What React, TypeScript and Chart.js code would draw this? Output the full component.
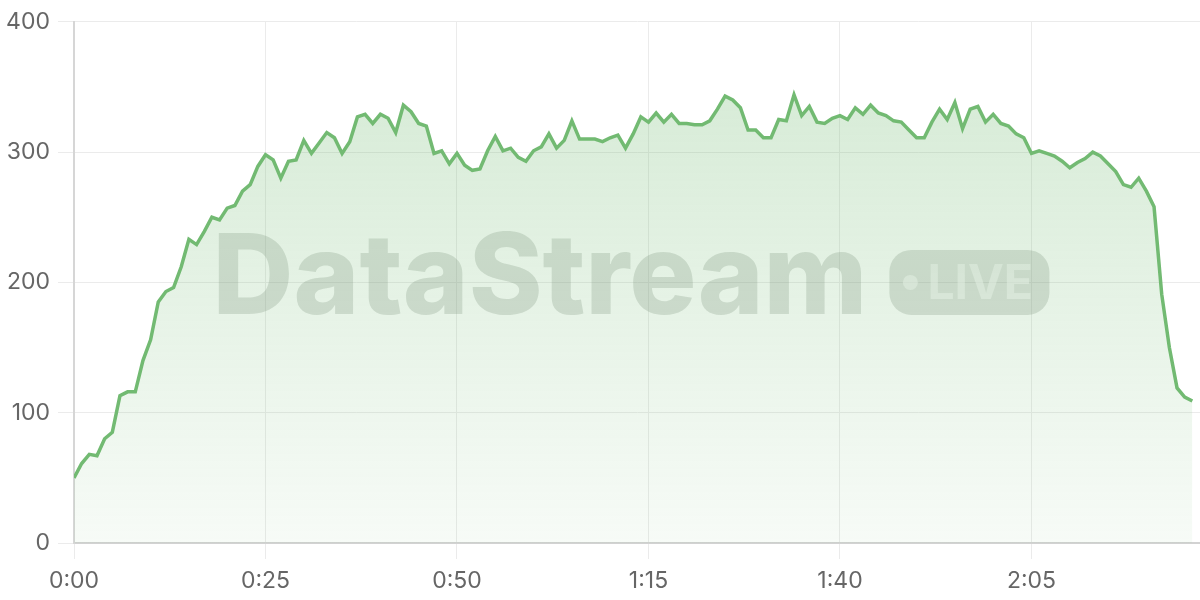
import { useRef, useEffect } from 'react'
import { Chart, registerables } from 'chart.js'

Chart.register(...registerables)

// one sample per second
const SPEED = [
  50, 61, 68, 67, 80, 85, 113, 116, 116, 140,
  156, 185, 193, 196, 212, 233, 229, 239, 250, 248,
  257, 259, 270, 275, 289, 298, 294, 280, 293, 294,
  309, 299, 307, 315, 311, 299, 308, 327, 329, 322,
  329, 326, 315, 336, 331, 322, 320, 299, 301, 291,
  299, 290, 286, 287, 301, 312, 301, 303, 296, 293,
  301, 304, 314, 303, 309, 324, 310, 310, 310, 308,
  311, 313, 303, 314, 327, 323, 330, 323, 329, 322,
  322, 321, 321, 324, 333, 343, 340, 334, 317, 317,
  311, 311, 325, 324, 344, 328, 335, 323, 322, 326,
  328, 325, 334, 329, 336, 330, 328, 324, 323, 317,
  311, 311, 323, 333, 325, 338, 318, 333, 335, 323,
  329, 322, 320, 314, 311, 299, 301, 299, 297, 293,
  288, 292, 295, 300, 297, 291, 285, 275, 273, 280,
  270, 258, 191, 150, 119, 112, 109,
]

const X_TICKS = [0, 25, 50, 75, 100, 125]
const Y_TICKS = [0, 100, 200, 300, 400]
const X_MAX = 147

const WATERMARK = 'DataStream'
const BADGE = 'LIVE'

const LINE = '#72ba72'
const FONT = 'Inter, "Noto Sans", sans-serif'

const fmtTime = (s: number) => `${Math.floor(s / 60)}:${String(s % 60).padStart(2, '0')}`

const watermarkPlugin = {
  id: 'watermark',
  beforeDatasetsDraw(chart: Chart) {
    const { ctx, chartArea } = chart
    if (!chartArea) return
    ctx.save()
    ctx.font = `800 112px ${FONT}`
    const wText = ctx.measureText(WATERMARK).width
    const pillW = 160
    const pillH = 65
    const gap = 22
    const total = wText + gap + pillW
    const cx = (chartArea.left + chartArea.right) / 2 - 6
    const cy = (chartArea.top + chartArea.bottom) / 2
    const x0 = cx - total / 2

    ctx.fillStyle = 'rgba(120, 130, 120, 0.25)'
    ctx.textBaseline = 'alphabetic'
    ctx.textAlign = 'left'
    ctx.fillText(WATERMARK, x0, cy + 32)

    const px = x0 + wText + gap
    const py = cy - pillH / 2
    ctx.beginPath()
    ctx.roundRect(px, py, pillW, pillH, 22)
    ctx.fill()

    ctx.fillStyle = 'rgba(255, 255, 255, 0.5)'
    ctx.beginPath()
    ctx.arc(px + 21, cy, 7.5, 0, Math.PI * 2)
    ctx.fill()
    ctx.font = `bold 48px ${FONT}`
    ctx.fillText(BADGE, px + 38, cy + 17)
    ctx.restore()
  },
}

export default function App() {
  const canvasRef = useRef<HTMLCanvasElement>(null)
  const chartRef = useRef<Chart | null>(null)

  useEffect(() => {
    document.body.style.margin = '0'
    if (!canvasRef.current) return
    Chart.getChart(canvasRef.current)?.destroy()

    chartRef.current = new Chart(canvasRef.current, {
      type: 'line',
      data: {
        datasets: [
          {
            label: 'speed',
            data: SPEED.map((y, i) => ({ x: i, y })),
            borderColor: LINE,
            borderWidth: 3.5,
            pointRadius: 0,
            tension: 0,
            fill: 'origin',
            backgroundColor: (c: any) => {
              const area = c.chart.chartArea
              if (!area) return 'rgba(116,187,116,0.2)'
              const g = c.chart.ctx.createLinearGradient(0, area.top, 0, area.bottom)
              g.addColorStop(0, 'rgba(116,187,116,0.32)')
              g.addColorStop(1, 'rgba(116,187,116,0.06)')
              return g
            },
          },
        ],
      },
      options: {
        responsive: true,
        maintainAspectRatio: false,
        animation: false,
        layout: { padding: { top: 19, right: 0, left: 0, bottom: 0 } },
        plugins: {
          legend: { display: false },
          tooltip: { enabled: false },
        },
        scales: {
          x: {
            type: 'linear',
            min: 0,
            max: X_MAX,
            afterBuildTicks: (s: any) => { s.ticks = X_TICKS.map((value) => ({ value })) },
            afterFit: (s: any) => { s.height = 57 },
            ticks: {
              font: { size: 23, family: FONT },
              color: '#666',
              padding: 8,
              maxRotation: 0,
              callback: (v) => fmtTime(v as number),
            },
            grid: { color: '#ebebeb', tickLength: 16 },
            border: { color: '#d2d2d2', width: 2 },
          },
          y: {
            min: 0,
            max: 400,
            afterBuildTicks: (s: any) => { s.ticks = Y_TICKS.map((value) => ({ value })) },
            afterFit: (s: any) => { s.width = 74 },
            ticks: {
              font: { size: 23, family: FONT },
              color: '#666',
              padding: 8,
            },
            grid: { color: '#ebebeb', tickLength: 16 },
            border: { color: '#d6d6d6', width: 2 },
          },
        },
      },
      plugins: [watermarkPlugin],
    })

    return () => { chartRef.current?.destroy(); chartRef.current = null }
  }, [])

  return (
    <div style={{ width: 1200, height: 600, position: 'relative' }}>
      <canvas ref={canvasRef} />
    </div>
  )
}
